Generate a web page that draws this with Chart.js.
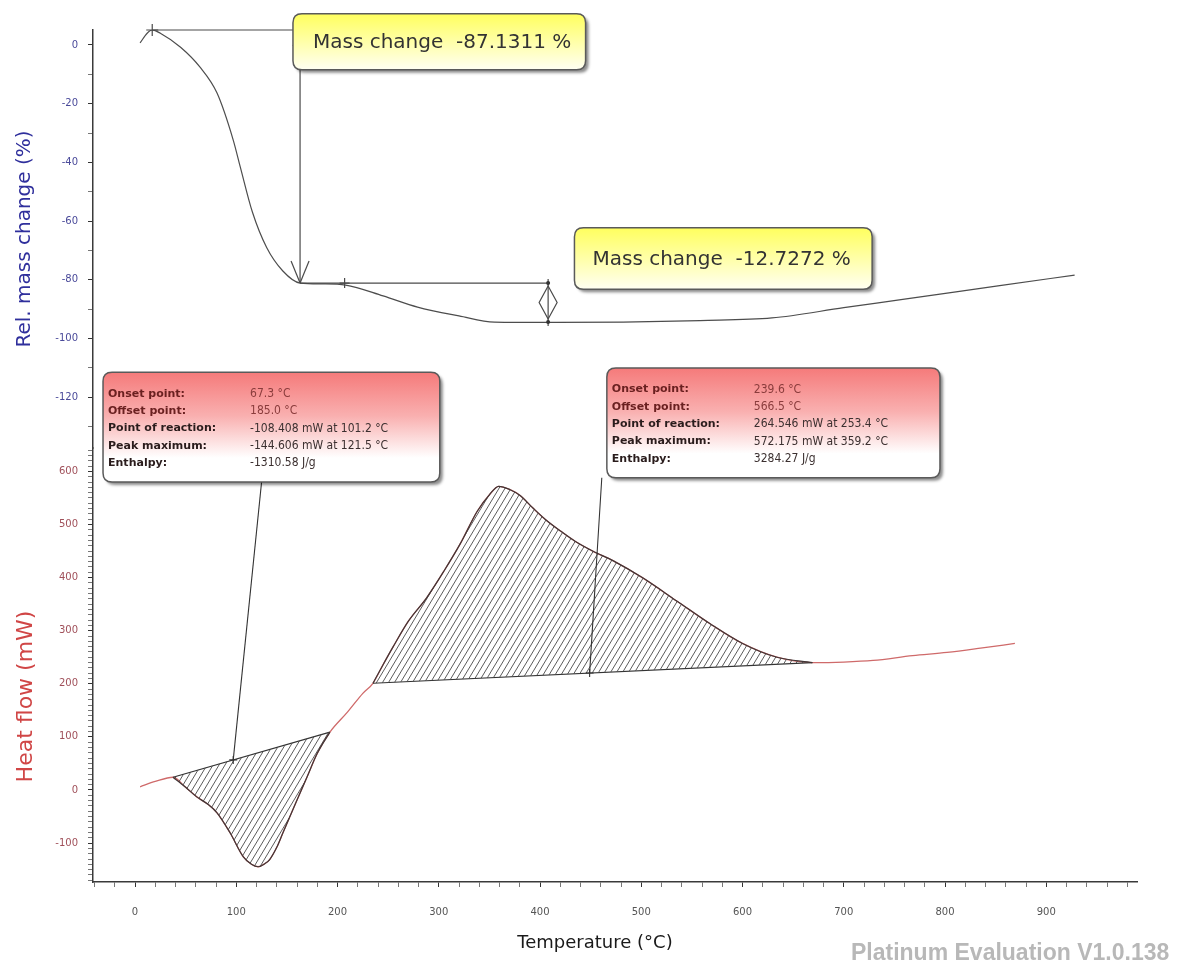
<!DOCTYPE html>
<html><head><meta charset="utf-8">
<script src="https://cdn.jsdelivr.net/npm/chart.js@4.4.0/dist/chart.umd.min.js"></script>
<style>
html,body{margin:0;padding:0;background:#fff;}
#wrap{position:relative;width:1194px;height:967px;overflow:hidden;}
#footer{position:absolute;left:851px;top:939px;font:bold 23px "Liberation Sans",Arial,sans-serif;color:#b8b8b8;white-space:nowrap;}
</style></head><body>
<div id="wrap"><canvas id="c" width="1194" height="967"></canvas><div id="footer">Platinum Evaluation V1.0.138</div></div>
<script>
// ---- TG (relative mass change) ----
const tgTemp = [5, 12, 17, 25, 45, 64, 81, 97, 104, 116, 130, 146, 163, 185, 208, 245, 279, 320, 355, 408, 482, 558, 629, 700, 760, 854, 928];
const tgMass = [0.7, 4.0, 5.1, 4.0, -0.8, -7.5, -16.4, -32.4, -41.6, -57.0, -69.0, -77.0, -81.1, -81.4, -81.8, -85.5, -89.3, -92.3, -94.4, -94.5, -94.4, -93.9, -93.0, -89.5, -86.6, -82.0, -78.4];
// ---- DSC (heat flow) ----
const dscTemp = [5, 20, 37.5, 50, 61, 72, 81, 94, 107, 115, 121.5, 128, 133, 140, 146, 153, 160, 170, 180, 192.5, 210, 225, 235, 245, 255, 270, 288, 305, 321, 338, 350, 359.2, 370, 380, 393, 405, 420, 435, 452, 472, 501, 535, 568, 600, 634, 669, 700, 729, 768, 802, 835, 869];
const dscFlow = [6, 16, 24, 5, -13, -27, -43, -81, -126, -140, -144.6, -139, -131, -108, -81, -50, -19, 25, 69, 109, 147, 182, 201, 236, 270, 318, 362, 412, 463, 525, 556, 572, 566, 555, 531, 510, 488, 468, 450, 432, 400, 356, 313, 276, 250, 240, 241, 244, 253, 259, 267, 276];
// ---- evaluation ranges ----
const peak1Range = [37.5, 192.5];
const peak2Range = [235, 669];
const massStep1 = {from: 17, at: 163, top: 5.1, bottom: -81.1, label: 'Mass change  -87.1311 %'};
const massStep2 = {from: 207, at: 408, top: -81.1, bottom: -94.4, label: 'Mass change  -12.7272 %'};
const peak1Labels = ['Onset point:', 'Offset point:', 'Point of reaction:', 'Peak maximum:', 'Enthalpy:'];
const peak1Values = ['67.3 °C', '185.0 °C', '-108.408 mW at 101.2 °C', '-144.606 mW at 121.5 °C', '-1310.58 J/g'];
const peak2Labels = ['Onset point:', 'Offset point:', 'Point of reaction:', 'Peak maximum:', 'Enthalpy:'];
const peak2Values = ['239.6 °C', '566.5 °C', '264.546 mW at 253.4 °C', '572.175 mW at 359.2 °C', '3284.27 J/g'];
const xTicksMajor = 100;

const pts = (xs, ys) => xs.map((x, i) => ({x, y: ys[i]}));
const dscPts = pts(dscTemp, dscFlow);
const seg = r => dscPts.filter(p => p.x >= r[0] && p.x <= r[1]);
const valAt = t => dscPts.find(p => p.x === t).y;
const base = r => [{x: r[0], y: valAt(r[0])}, {x: r[1], y: valAt(r[1])}];
const baseY = (r, t) => valAt(r[0]) + (valAt(r[1]) - valAt(r[0])) * (t - r[0]) / (r[1] - r[0]);

// hatch pattern
const pc = document.createElement('canvas'); pc.width = 6; pc.height = 10;
const pctx = pc.getContext('2d');
pctx.strokeStyle = '#4a4a4a'; pctx.lineWidth = 0.9;
for (const x0 of [-6, 0, 6]) { pctx.beginPath(); pctx.moveTo(x0, 10); pctx.lineTo(x0 + 6, 0); pctx.stroke(); }
const hatch = document.getElementById('c').getContext('2d').createPattern(pc, 'repeat');

function rrect(ctx, x, y, w, h, r) {
  ctx.beginPath(); ctx.moveTo(x + r, y); ctx.lineTo(x + w - r, y); ctx.quadraticCurveTo(x + w, y, x + w, y + r);
  ctx.lineTo(x + w, y + h - r); ctx.quadraticCurveTo(x + w, y + h, x + w - r, y + h);
  ctx.lineTo(x + r, y + h); ctx.quadraticCurveTo(x, y + h, x, y + h - r);
  ctx.lineTo(x, y + r); ctx.quadraticCurveTo(x, y, x + r, y); ctx.closePath();
}
function box(ctx, x1, y1, x2, y2, stops) {
  ctx.save();
  ctx.shadowColor = 'rgba(0,0,0,0.45)'; ctx.shadowOffsetX = 3; ctx.shadowOffsetY = 3; ctx.shadowBlur = 3;
  const g = ctx.createLinearGradient(0, y1, 0, y2);
  stops.forEach(s => g.addColorStop(s[0], s[1]));
  rrect(ctx, x1, y1, x2 - x1, y2 - y1, 9); ctx.fillStyle = g; ctx.fill();
  ctx.restore();
  ctx.save(); rrect(ctx, x1, y1, x2 - x1, y2 - y1, 9); ctx.strokeStyle = '#5a5a5a'; ctx.lineWidth = 1.5; ctx.stroke(); ctx.restore();
}
function cross(ctx, x, y, s) { ctx.beginPath(); ctx.moveTo(x - s, y); ctx.lineTo(x + s, y); ctx.moveTo(x, y - s); ctx.lineTo(x, y + s); ctx.stroke(); }
function line(ctx, x1, y1, x2, y2) { ctx.beginPath(); ctx.moveTo(x1, y1); ctx.lineTo(x2, y2); ctx.stroke(); }

const annot = {
  id: 'annot',
  afterDatasetsDraw(chart) {
    const ctx = chart.ctx, X = chart.scales.x, T = chart.scales.yTG, D = chart.scales.yDSC;
    const px = v => X.getPixelForValue(v), pt = v => T.getPixelForValue(v), pd = v => D.getPixelForValue(v);
    ctx.save();
    ctx.strokeStyle = '#4a4a4a'; ctx.lineWidth = 1.2;
    // mass step 1
    cross(ctx, px(massStep1.from), pt(massStep1.top), 6);
    line(ctx, px(massStep1.from), pt(massStep1.top), px(massStep1.at), pt(massStep1.top));
    line(ctx, px(massStep1.at), pt(massStep1.top), px(massStep1.at), pt(massStep1.bottom));
    const ax = px(massStep1.at), ay = pt(massStep1.bottom);
    line(ctx, ax - 9, ay - 22, ax, ay); line(ctx, ax + 9, ay - 22, ax, ay);
    line(ctx, ax - 7, pt(massStep1.top) + 16, ax, pt(massStep1.top));
    // mass step 2
    line(ctx, px(massStep1.at), pt(massStep2.top), px(massStep2.at), pt(massStep2.top));
    cross(ctx, px(massStep2.from), pt(massStep2.top), 5);
    const bx = px(massStep2.at), by1 = pt(massStep2.top), by2 = pt(massStep2.bottom);
    line(ctx, bx, by1 - 4, bx, by2 + 4);
    const my = (by1 + by2) / 2;
    ctx.beginPath(); ctx.moveTo(bx, by1 + 3); ctx.lineTo(bx + 9, my); ctx.lineTo(bx, by2 - 3); ctx.lineTo(bx - 9, my); ctx.closePath(); ctx.stroke();
    ctx.fillStyle = '#333'; ctx.beginPath(); ctx.arc(bx, by1, 2, 0, 7); ctx.arc(bx, by2, 2, 0, 7); ctx.fill();
    // DSC pointer lines
    ctx.strokeStyle = '#333'; ctx.lineWidth = 1.1;
    const p1 = 97, p2 = 449;
    line(ctx, px(125), pd(580), px(p1), pd(baseY(peak1Range, p1)));
    cross(ctx, px(p1), pd(baseY(peak1Range, p1)), 4);
    line(ctx, px(461), pd(588), px(p2), pd(baseY(peak2Range, p2)));
    cross(ctx, px(p2), pd(baseY(peak2Range, p2)), 4);
    // yellow boxes
    const yel = [[0, '#ffff5e'], [0.5, '#ffffa8'], [1, '#fffff2']];
    const b1 = [px(156), pt(10.6), px(445), pt(-8.4)];
    box(ctx, b1[0], b1[1], b1[2], b1[3], yel);
    const b2 = [px(434), pt(-62.3), px(728), pt(-83.2)];
    box(ctx, b2[0], b2[1], b2[2], b2[3], yel);
    ctx.fillStyle = '#333'; ctx.font = '20px "DejaVu Sans", sans-serif'; ctx.textBaseline = 'middle'; ctx.textAlign = 'left';
    ctx.fillText(massStep1.label, b1[0] + 20, (b1[1] + b1[3]) / 2 + 1);
    ctx.fillText(massStep2.label, b2[0] + 18, (b2[1] + b2[3]) / 2 + 1);
    // red boxes
    const red = [[0, '#f57a7a'], [0.4, '#f9b0b0'], [0.78, '#ffffff'], [1, '#ffffff']];
    const drawTable = (x1, y1, x2, y2, labels, values) => {
      box(ctx, x1, y1, x2, y2, red);
      const step = (y2 - y1) / 6.35;
      labels.forEach((l, i) => {
        const y = y1 + step * (i + 1.25);
        ctx.font = 'bold 11px "DejaVu Sans", sans-serif';
        ctx.fillStyle = i < 2 ? '#6a2020' : '#2a1c1c';
        ctx.fillText(l, x1 + 5, y);
        ctx.font = '12px "DejaVu Sans Condensed", "DejaVu Sans", sans-serif';
        ctx.fillStyle = i < 2 ? '#8a3c3c' : '#3c3030';
        ctx.fillText(values[i], x1 + 147, y);
      });
    };
    drawTable(px(-31.6), pd(787), px(301), pd(580), peak1Labels, peak1Values);
    drawTable(px(466), pd(795), px(795), pd(588), peak2Labels, peak2Values);
    ctx.restore();
  }
};

const tickFont = {family: '"DejaVu Sans", sans-serif', size: 10};
new Chart(document.getElementById('c'), {
  type: 'line',
  data: {
    datasets: [
      {data: pts(tgTemp, tgMass), yAxisID: 'yTG', borderColor: '#4d4d4d', borderWidth: 1.2, pointRadius: 0, cubicInterpolationMode: 'monotone', fill: false, order: 1},
      {data: dscPts, yAxisID: 'yDSC', borderColor: '#cf6a6a', borderWidth: 1.3, pointRadius: 0, cubicInterpolationMode: 'monotone', fill: false, order: 10},
      {data: seg(peak1Range), yAxisID: 'yDSC', borderColor: '#403636', borderWidth: 1.2, pointRadius: 0, cubicInterpolationMode: 'monotone', fill: '+1', backgroundColor: hatch, order: 2},
      {data: base(peak1Range), yAxisID: 'yDSC', borderColor: '#333', borderWidth: 1.2, pointRadius: 0, fill: false, order: 2},
      {data: seg(peak2Range), yAxisID: 'yDSC', borderColor: '#403636', borderWidth: 1.2, pointRadius: 0, cubicInterpolationMode: 'monotone', fill: '+1', backgroundColor: hatch, order: 2},
      {data: base(peak2Range), yAxisID: 'yDSC', borderColor: '#333', borderWidth: 1.2, pointRadius: 0, fill: false, order: 2}
    ]
  },
  options: {
    responsive: false, animation: false, parsing: true,
    layout: {padding: {left: 0, right: 57, top: 30, bottom: 0}},
    plugins: {legend: {display: false}, tooltip: {enabled: false}},
    scales: {
      x: {
        type: 'linear', min: -41.5, max: 989.6,
        border: {color: '#3a3a3a', width: 1.5},
        grid: {drawOnChartArea: false, tickLength: 5, tickColor: c => (c.tick && c.tick.value % xTicksMajor === 0 ? '#333' : '#777')},
        ticks: {stepSize: 20, includeBounds: false, autoSkip: false, maxRotation: 0, padding: 19, color: '#555', font: tickFont,
          callback: v => (v % xTicksMajor === 0 ? String(v) : '')},
        title: {display: true, text: 'Temperature (°C)       ', color: '#1a1a1a', font: {family: '"DejaVu Sans", sans-serif', size: 18}, padding: {top: 4, bottom: 13}},
        afterFit: s => { s.height = 85; }
      },
      yDSC: {
        type: 'linear', position: 'left', stack: 'y', stackWeight: 434, min: -173.3, max: 644.1,
        border: {color: '#3a3a3a', width: 1.5},
        grid: {drawOnChartArea: false, tickLength: 5, tickColor: c => (c.tick && c.tick.value % 100 === 0 ? '#333' : '#777')},
        ticks: {stepSize: 10, includeBounds: false, autoSkip: false, padding: 10, color: '#a0505a', font: tickFont,
          callback: v => (v % 100 === 0 ? String(v) : '')},
        title: {display: true, text: 'Heat flow (mW)         ', color: '#d04646', font: {family: '"DejaVu Sans", sans-serif', size: 22}, padding: {top: 13, bottom: 0}},
        afterFit: s => { s.width = 93; }
      },
      yTG: {
        type: 'linear', position: 'left', stack: 'y', stackWeight: 418, min: -137.3, max: 5.1,
        border: {color: '#3a3a3a', width: 1.5},
        grid: {drawOnChartArea: false, tickLength: 5, tickColor: c => (c.tick && c.tick.value % 20 === 0 ? '#333' : '#777')},
        ticks: {stepSize: 10, includeBounds: false, autoSkip: false, padding: 10, color: '#4a4a9a', font: tickFont,
          callback: v => (v % 20 === 0 ? String(v) : '')},
        title: {display: true, text: 'Rel. mass change (%)', color: '#2f2f9c', font: {family: '"DejaVu Sans", sans-serif', size: 20}, padding: {top: 13, bottom: 0}},
        afterFit: s => { s.width = 93; }
      }
    }
  },
  plugins: [annot]
});
</script>
</body></html>
